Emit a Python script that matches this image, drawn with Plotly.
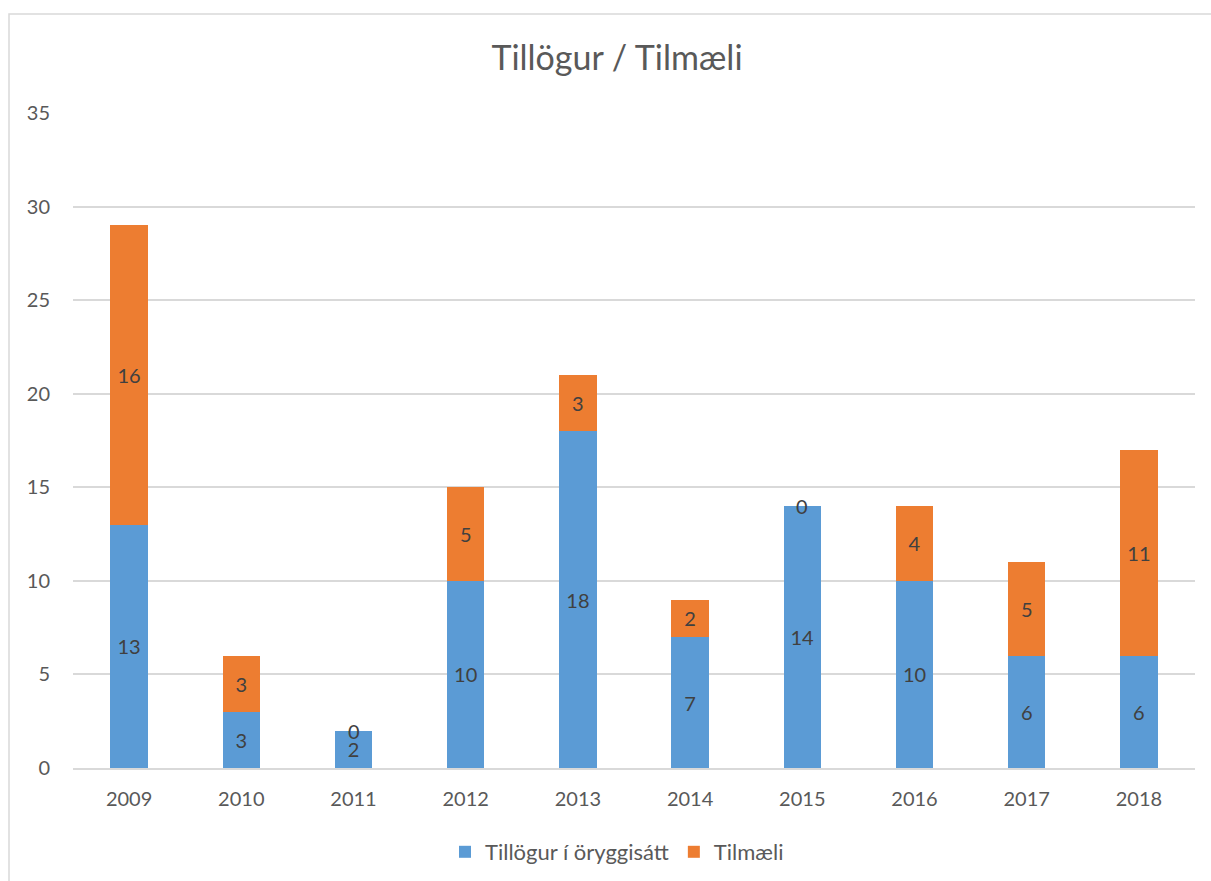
import plotly.graph_objects as go

years = ["2009", "2010", "2011", "2012", "2013", "2014", "2015", "2016", "2017", "2018"]
tillogur = [13, 3, 2, 10, 18, 7, 14, 10, 6, 6]
tilmaeli = [16, 3, 0, 5, 3, 2, 0, 4, 5, 11]
y_ticks = [0, 5, 10, 15, 20, 25, 30, 35]

W, H = 1211, 881
L, R, T, B = 73, 16, 113, 113
pw, ph = W - L - R, H - T - B

FONT = "Lato, Carlito, Calibri, sans-serif"
LABEL = dict(family=FONT, size=20, color="#404040")
TICK = dict(family=FONT, size=20, color="#595959")

fig = go.Figure()
fig.add_trace(go.Bar(
    x=years, y=tillogur, name="Tillögur í öryggisátt",
    marker=dict(color="#5B9BD5", line=dict(width=0)),
    text=[str(v) if v else "" for v in tillogur],
    textposition="inside", insidetextanchor="middle", textangle=0,
    textfont=LABEL, constraintext="none", hoverinfo="skip",
))
fig.add_trace(go.Bar(
    x=years, y=tilmaeli, name="Tilmæli",
    marker=dict(color="#ED7D31", line=dict(width=0)),
    text=[str(v) if v else "" for v in tilmaeli],
    textposition="inside", insidetextanchor="middle", textangle=0,
    textfont=LABEL, constraintext="none", hoverinfo="skip",
))

# labels for zero-height segments, drawn at the top of the stack
for i, (a, b) in enumerate(zip(tillogur, tilmaeli)):
    if b == 0:
        fig.add_annotation(x=i, y=a + b, text="0", showarrow=False,
                           font=LABEL, yanchor="middle", xanchor="center")

# outer chart border (partially visible, as in the reference)
fig.add_shape(type="rect", xref="paper", yref="paper",
              x0=(9 - L) / pw, x1=(W + 50 - L) / pw,
              y0=-(B + 50) / ph, y1=(H - B - 14) / ph,
              line=dict(color="#D9D9D9", width=1.5), layer="below")

fig.update_layout(
    width=W, height=H,
    margin=dict(l=L, r=R, t=T, b=B, autoexpand=False),
    barmode="stack", bargap=0.667,
    paper_bgcolor="white", plot_bgcolor="white",
    title=dict(text="Tillögur / Tilmæli", x=(617 - L) / pw, xref="paper",
               xanchor="center", y=(H - 58) / H, yanchor="middle",
               font=dict(family=FONT, size=34, color="#595959")),
    legend=dict(orientation="h", x=(617 - L) / pw, xanchor="center", y=-(852 - (H - B)) / ph,
                yanchor="middle", font=dict(family=FONT, size=22, color="#595959"),
                itemsizing="constant", traceorder="normal", itemwidth=30),
    showlegend=True,
    xaxis=dict(type="category", range=[-0.5, len(years) - 0.5], showgrid=False,
               showline=True, linecolor="#D9D9D9",
               linewidth=1.5, ticks="", tickfont=TICK, ticklabelstandoff=12,
               zeroline=False),
    yaxis=dict(range=[0, 35], tickvals=y_ticks, showgrid=True, gridcolor="#D9D9D9",
               gridwidth=1.5, zeroline=False, showline=False, ticks="",
               tickfont=TICK, ticklabelstandoff=22),
)

fig.write_html("out.html", config={"displayModeBar": False},
               post_script="document.body.style.margin='0px';")
